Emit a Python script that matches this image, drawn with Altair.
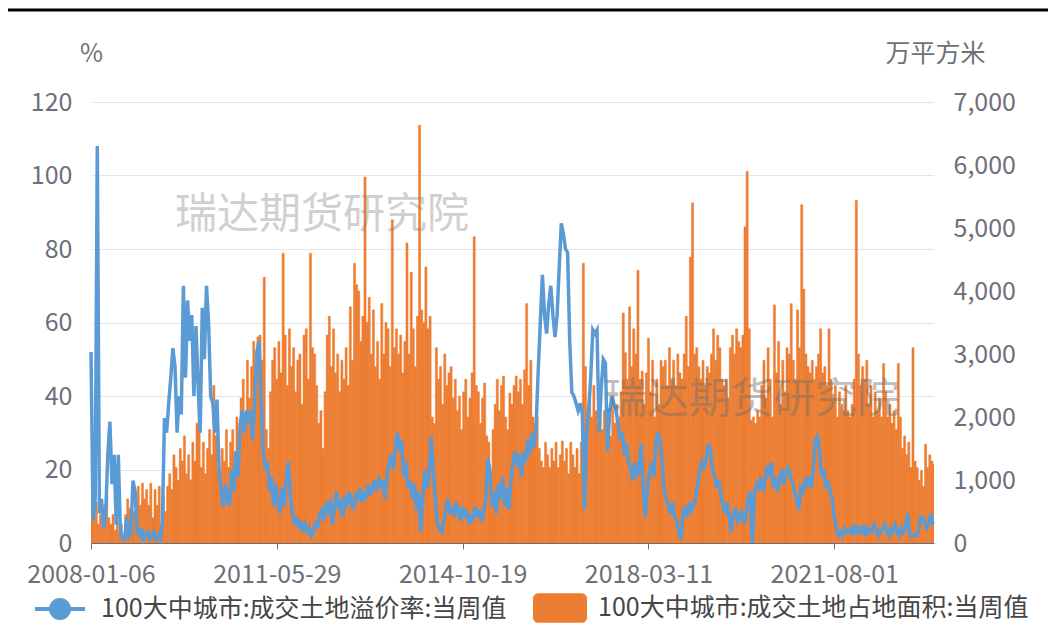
import altair as alt
import pandas as pd

# ---------------- data (bi-weekly readings from the picture) ----------------
START = "2008-01-06"
tick_dates = ["2008-01-06", "2011-05-29", "2014-10-19", "2018-03-11", "2021-08-01"]
name_line = "100大中城市:成交土地溢价率:当周值"
name_bar = "100大中城市:成交土地占地面积:当周值"

premium = [
    52, 6, 12, 108, 8, 12, 4, 8, 24, 33,
    16, 24, 5, 24, 3, 1, 1, 7, 2, 3,
    17, 14, 3, 2, 4, 1, 2, 3, 1, 2,
    3, 1, 2, 1, 6, 34, 30, 38, 45, 53,
    48, 30, 40, 35, 70, 45, 66, 55, 62, 40,
    59, 43, 30, 64, 50, 70, 60, 40, 38, 30,
    39, 20, 14, 10, 16, 12, 10, 20, 14, 25,
    18, 32, 36, 30, 36, 33, 36, 28, 40, 52,
    55, 40, 25, 20, 22, 14, 18, 10, 16, 12,
    8, 15, 10, 18, 22, 12, 8, 5, 7, 4,
    6, 3, 5, 3, 4, 2, 3, 6, 4, 8,
    9, 6, 11, 8, 12, 5, 10, 14, 9, 12,
    7, 13, 10, 14, 11, 9, 13, 12, 15, 11,
    14, 12, 16, 13, 15, 17, 14, 18, 15, 17,
    12, 18, 22, 24, 20, 27, 30, 25, 28, 18,
    22, 15, 17, 12, 16, 9, 14, 3, 12, 20,
    15, 18, 29, 20, 12, 5, 4, 3, 6, 9,
    12, 8, 10, 7, 11, 9, 6, 10, 7, 9,
    5, 8, 6, 10, 7, 9, 6, 8, 12, 23,
    20, 10, 14, 8, 16, 12, 18, 10, 15, 9,
    17, 22, 25, 21, 24, 18, 25, 22, 28, 24,
    30, 26, 32, 47, 60, 73, 62, 57, 65, 70,
    62, 56, 62, 75, 87, 84, 80, 79, 55, 41,
    40, 38, 36, 38, 35, 9, 30, 36, 45, 58,
    57, 58, 30, 42, 50, 49, 25, 35, 40, 38,
    36, 33, 28, 30, 24, 27, 22, 20, 17, 22,
    18, 20, 27, 15, 7, 15, 19, 22, 18, 27,
    30, 28, 22, 14, 12, 10, 8, 11, 7, 6,
    3, 1, 8, 10, 7, 11, 9, 10, 13, 16,
    20, 22, 20, 23, 27, 25, 20, 18, 15, 17,
    13, 10, 8, 11, 7, 3, 8, 9, 6, 7,
    9, 5, 8, 12, 14, 0, 14, 16, 15, 18,
    14, 17, 21, 18, 22, 15, 18, 14, 17, 20,
    16, 19, 21, 18, 17, 14, 12, 9, 15, 14,
    17, 16, 18, 15, 20, 28, 29, 25, 18, 20,
    15, 17, 14, 12, 7, 4, 2, 3, 2, 4,
    3, 3, 4, 2, 5, 3, 4, 3, 5, 2,
    4, 3, 3, 5, 4, 2, 3, 4, 5, 3,
    2, 4, 3, 5, 3, 2, 4, 3, 5, 8,
    2, 2, 2, 2, 3, 7, 7, 6, 4, 5,
    8, 5,
]

area = [
    900, 500, 650, 300, 450, 250, 600, 750, 400, 300,
    450, 200, 350, 150, 300, 100, 450, 700, 550, 300,
    500, 750, 900, 600, 950, 700, 850, 600, 950, 400,
    850, 600, 900, 300, 750, 500, 900, 1100, 850, 1400,
    1200, 1000, 1500, 1300, 1700, 1100, 1400, 1000, 1600, 1300,
    1900, 2550, 1200, 1600, 1100, 1500, 1800, 1400, 2500, 1700,
    1200, 1000, 1500, 1300, 1800, 1200, 1600, 1800, 1400, 2000,
    1500, 2300, 2600, 2000, 2900, 2300, 2800, 3200, 2600, 3270,
    3300, 2900, 4220, 1800, 1500, 2400, 2900, 3100, 2600, 3200,
    2700, 4600, 3300, 2500, 3400, 2800, 3100, 2400, 2900, 3000,
    2200, 3300, 3400, 2600, 4600, 3100, 3000, 2500, 1900, 2100,
    1500, 2400, 3300, 3600, 2800, 3400, 2700, 3000, 2400, 2900,
    2600, 3100, 2500, 3750, 2900, 4440, 4100, 4000, 3200, 3600,
    5810, 3500, 3900, 3000, 3700, 2800, 3200, 2600, 3800, 3000,
    3500, 3400, 2800, 5130, 3100, 3400, 3000, 3300, 2700, 3200,
    4760, 3000, 4300, 3400, 2800, 3600, 6630, 3700, 3500, 4380,
    3400, 3600, 2000, 1900, 3100, 2600, 2800, 2200, 3000, 2500,
    2700, 2800, 2300, 2600, 2100, 2330, 1800, 2400, 2600, 2000,
    2300, 2700, 4860, 2500, 2400, 1900, 2300, 2540, 1700, 1600,
    1100, 1800, 2200, 2600, 2100, 2500, 2650, 2000, 1800, 2380,
    2200, 2500, 2650, 2400, 2600, 2200, 2750, 3800, 2500, 2900,
    2000, 1900, 2000, 1500, 1300, 1200, 1600, 1400, 1200, 1500,
    1300, 1600, 1200, 1400, 1620, 1300, 1500, 1100, 1600, 1400,
    1200, 1500, 1100, 1600, 4440, 2800, 2100, 2300, 2000, 2500,
    2100, 1900, 2000, 1800, 2100, 1900, 2000, 1700, 2100, 1900,
    2200, 2000, 2400, 3650, 3020, 2600, 3750, 2800, 3400, 3000,
    4330, 2600, 2730, 2200, 2700, 3250, 2400, 2900, 2000, 2600,
    2200, 2900, 2800, 2900, 2500, 3100, 2600, 2900, 2500, 3000,
    2700, 2600, 3000, 3600, 2800, 4540, 5400, 3000, 3100, 2800,
    2600, 2900, 2500, 2800, 2700, 3000, 3400, 2900, 3300, 3100,
    2600, 2500, 2600, 2300, 3100, 3300, 3000, 3400, 3200, 3100,
    3300, 5020, 5900, 3400, 1950, 2000, 1900, 2100, 2000, 2500,
    2900, 2300, 3100, 2600, 2000, 3780, 2700, 3200, 2200, 2900,
    2400, 3100, 3000, 3800, 2900, 2600, 3700, 3100, 5370, 4030,
    3000, 2800, 2700, 2900, 2600, 2800, 3000, 3400, 2700, 2800,
    2500, 3400, 2600, 2300, 2500, 2000, 2400, 2200, 2100, 2500,
    2100, 2000, 2200, 2600, 5440, 3000, 2500, 2800, 2600, 2900,
    2200, 2500, 2000, 2400, 2100, 2300, 2000, 2850, 2400, 2000,
    2200, 1900, 2100, 1800, 2850, 2000, 1500, 1700, 1400, 1600,
    1200, 3100, 1300, 1200, 1000, 1150, 900, 1570, 1200, 1400,
    1300, 1250,
]

# ---------------- styling ----------------
BLUE = "#5B9BD5"
ORANGE = "#ED7D31"
AXIS_GRAY = "#6E7079"
GRID = "#E0E6F1"
FONT = "Noto Sans CJK SC"
FS = 25

dates = pd.date_range(START, periods=len(premium), freq="14D")
df = pd.DataFrame({
    "date": dates.strftime("%Y-%m-%dT00:00:00Z"),
    "end": (dates + pd.Timedelta(days=14)).strftime("%Y-%m-%dT00:00:00Z"),
    "premium": premium,
    "area": area,
    "s1": name_line,
    "s2": name_bar,
})


def dt(s):
    y, m, d = (int(v) for v in s.split("-"))
    return alt.DateTime(year=y, month=m, date=d, utc=True)


x_enc = alt.X(
    "date:T",
    scale=alt.Scale(type="utc", domain=[dt("2008-01-06"), dt("2023-05-28")]),
    axis=alt.Axis(
        values=[dt(t) for t in tick_dates],
        labelExpr="utcFormat(datum.value, '%Y-%m-%d')",
        labelFlush=False,
        labelOverlap=False,
        title=None,
        grid=False,
        domainColor=AXIS_GRAY,
        tickColor=AXIS_GRAY,
        tickSize=6,
        labelPadding=13,
        labelColor=AXIS_GRAY,
        labelFont=FONT,
        labelFontSize=FS,
    ),
)

RECT_PATH = ("M-0.8,-0.55H0.8A0.2,0.2,0,0,1,1,-0.35V0.35A0.2,0.2,0,0,1,0.8,0.55"
             "H-0.8A0.2,0.2,0,0,1,-1,0.35V-0.35A0.2,0.2,0,0,1,-0.8,-0.55Z")
LINE_PATH = "M-1,0L1,0M-0.36,0A0.36,0.36,0,1,0,0.36,0A0.36,0.36,0,1,0,-0.36,0Z"

bars = alt.Chart(df).mark_bar(
    clip=True, opacity=1, stroke=ORANGE, strokeWidth=0.5
).encode(
    x=x_enc,
    x2="end:T",
    y=alt.Y(
        "area:Q",
        scale=alt.Scale(domain=[0, 7000]),
        axis=alt.Axis(
            orient="right",
            values=list(range(0, 7001, 1000)),
            labelExpr="format(datum.value, ',')",
            grid=False,
            domain=False,
            ticks=False,
            tickSize=0,
            labelPadding=19,
            labelColor=AXIS_GRAY,
            labelFont=FONT,
            labelFontSize=FS,
            title="万平方米",
            titleAngle=0,
            titleX=1,
            titleY=-49,
            titleAlign="center",
            titleBaseline="middle",
            titleColor=AXIS_GRAY,
            titleFont=FONT,
            titleFontSize=FS,
            titleFontWeight="normal",
        ),
    ),
    y2=alt.datum(0),
    fill=alt.Fill(
        "s2:N",
        scale=alt.Scale(domain=[name_bar], range=[ORANGE]),
        legend=alt.Legend(
            title=None,
            orient="none",
            legendX=442,
            legendY=479,
            padding=0,
            symbolType=RECT_PATH,
            symbolSize=2916,
            symbolFillColor=ORANGE,
            symbolStrokeWidth=0,
            symbolOpacity=1,
            labelOffset=11,
            labelFont=FONT,
            labelFontSize=FS,
            labelColor="#464646",
            labelLimit=700,
        ),
    ),
)

line = alt.Chart(df).mark_line(strokeWidth=3.5, interpolate="linear").encode(
    x=x_enc,
    y=alt.Y(
        "premium:Q",
        scale=alt.Scale(domain=[0, 120]),
        axis=alt.Axis(
            orient="left",
            values=list(range(0, 121, 20)),
            grid=True,
            gridColor=GRID,
            gridWidth=1,
            domain=False,
            ticks=False,
            tickSize=0,
            labelPadding=19,
            labelColor=AXIS_GRAY,
            labelFont=FONT,
            labelFontSize=FS,
            title="%",
            titleAngle=0,
            titleX=0,
            titleY=-49,
            titleAlign="center",
            titleBaseline="middle",
            titleColor=AXIS_GRAY,
            titleFont=FONT,
            titleFontSize=FS,
            titleFontWeight="normal",
        ),
    ),
    stroke=alt.Stroke(
        "s1:N",
        scale=alt.Scale(domain=[name_line], range=[BLUE]),
        legend=alt.Legend(
            title=None,
            orient="none",
            legendX=-58,
            legendY=480,
            padding=0,
            symbolType=LINE_PATH,
            symbolSize=2500,
            symbolStrokeWidth=4,
            symbolFillColor=BLUE,
            symbolStrokeColor=BLUE,
            symbolOpacity=1,
            labelOffset=14,
            labelFont=FONT,
            labelFontSize=FS,
            labelColor="#464646",
            labelLimit=700,
        ),
    ),
)

one = pd.DataFrame({"k": [0]})

wm1 = alt.Chart(one).mark_text(
    font=FONT, fontSize=42, color="#808080", opacity=0.36, align="center", baseline="middle"
).encode(text=alt.value("瑞达期货研究院"), x=alt.value(231), y=alt.value(113))

wm2 = alt.Chart(one).mark_text(
    font=FONT, fontSize=42, color="#707070", opacity=0.45, align="center", baseline="middle"
).encode(text=alt.value("瑞达期货研究院"), x=alt.value(661), y=alt.value(298))

border = alt.Chart(one).mark_rule(color="black", strokeWidth=3).encode(
    x=alt.value(-83), x2=alt.value(957), y=alt.value(-92)
)

chart = (
    alt.layer(bars, line, wm1, wm2, border)
    .resolve_scale(y="independent")
    .properties(
        width=843,
        height=441,
        autosize=alt.AutoSizeParams(type="none"),
        padding={"left": 83, "top": 94, "right": 114, "bottom": 86},
        background="white",
    )
    .configure_view(stroke=None)
)

chart.save("out.html", embed_options={"renderer": "svg", "actions": False})
